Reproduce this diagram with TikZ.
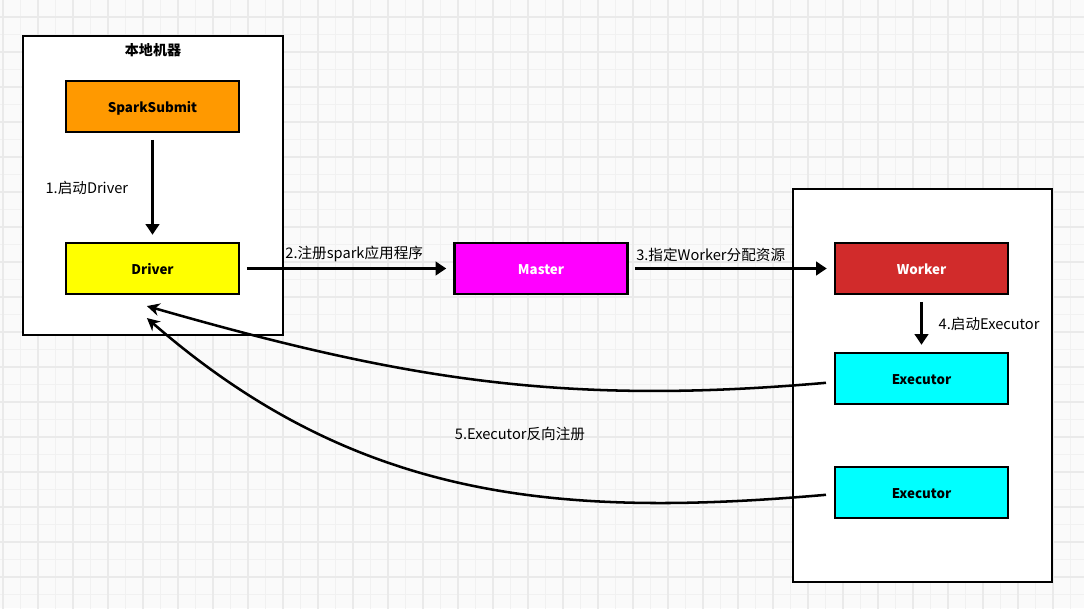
\documentclass[tikz,border=0pt]{standalone}
\usepackage{fontspec}
\setmainfont{Noto Sans CJK SC}
\usetikzlibrary{arrows.meta,positioning}
\definecolor{gridbg}{HTML}{FAFAFA}
\definecolor{gridminor}{HTML}{F1F1F1}
\definecolor{gridmajor}{HTML}{EAEAEA}
\definecolor{submitorange}{HTML}{FF9900}
\definecolor{driveryellow}{HTML}{FFFF00}
\definecolor{mastermagenta}{HTML}{FF00FF}
\definecolor{workerred}{HTML}{D12B2B}
\definecolor{execcyan}{HTML}{00FFFF}

\begin{document}
\begin{tikzpicture}[
 proc/.style={draw=black,line width=1.5pt,minimum width=4.325cm,minimum height=1.275cm,text height=0.95em,text depth=0.05em,font=\fontsize{9.5}{11}\selectfont\bfseries},
 machine/.style={draw=black,fill=white,line width=1.3pt},
 flow/.style={-{Triangle[length=7.5pt,width=9.5pt]},line width=2pt,shorten <=0.17cm,shorten >=0.18cm},
 back/.style={-{Stealth[length=9pt,width=9pt]},line width=1.8pt,shorten <=0.2cm},
 tag/.style={font=\fontsize{10.4}{12}\selectfont,inner sep=1pt}]
 \useasboundingbox(0,0)rectangle(27.1,15.2);
 \fill[gridbg](0,0)rectangle(27.1,15.2);
 \begin{scope}\clip(0,0)rectangle(27.1,15.2);
 \begin{scope}[shift={(0.075,-0.1075)}]
 \draw[gridminor,line width=0.7pt,step=0.4375](-1,-1)grid(29,17);
 \draw[gridmajor,line width=1.4pt,step=0.875](-1,-1)grid(29,17);
 \end{scope}\end{scope}
 \node[machine,minimum width=6.5cm,minimum height=7.475cm](local)at(3.825,10.5625){};
 \node[machine,minimum width=6.475cm,minimum height=9.825cm](cluster)at(23.0625,5.5625){};
 \node[font=\fontsize{10}{12}\selectfont\bfseries](localtitle)at(3.825,13.95){本地机器};
 \node[proc,fill=submitorange](submit)at(3.8125,12.5375){SparkSubmit};
 \node[proc,fill=driveryellow](drv)at(3.8125,8.4875){Driver};
 \node[proc,fill=mastermagenta,text=white](master)at(13.525,8.4875){Master};
 \node[proc,fill=workerred,text=white](worker)at(23.0375,8.4875){Worker};
 \node[proc,fill=execcyan](exec1)at(23.0375,5.7375){Executor};
 \node[proc,fill=execcyan](exec2)at(23.0375,2.8875){Executor};
 \node[tag](lbl5)at(13,4.35){5.Executor反向注册};
 \draw[flow](submit)--node[tag,left=0.54cm]{1.启动Driver}(drv);
 \draw[flow](drv)--node[tag,above=0.1cm,pos=0.535]{2.注册spark应用程序}(master);
 \draw[flow](master)--node[tag,above=0.1cm,pos=0.4]{3.指定Worker分配资源}(worker);
 \draw[flow](worker)--node[tag,right=0.36cm]{4.启动Executor}(exec1);
 \draw[back]([yshift=-0.09cm]exec1.west)to[out=185,in=-16]([shift={(-0.14,-0.275)}]drv.south);
 \draw[back]([yshift=-0.04cm]exec2.west)to[out=185,in=-41]([shift={(-0.14,-0.575)}]drv.south);
\end{tikzpicture}
\end{document}
